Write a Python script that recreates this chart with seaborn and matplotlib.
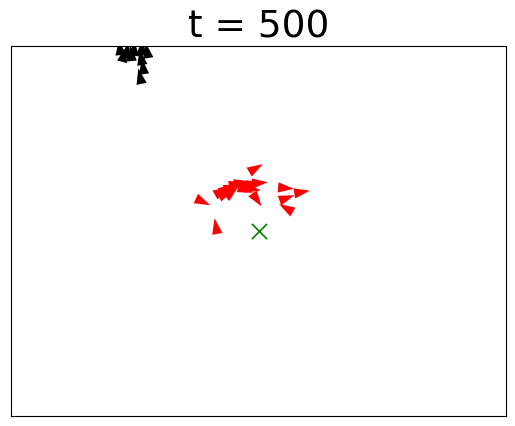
import numpy as np
import pandas as pd
import matplotlib
matplotlib.use("Agg")
import matplotlib.pyplot as plt
from matplotlib.markers import MarkerStyle
from matplotlib.path import Path
from matplotlib.transforms import Affine2D
import seaborn as sns

# flock (red) - position and heading in degrees
flock_x = [-1.0, -22.4, -17.2, -0.6, 11.1, 17.6, 11.5, 11.1,
           -14.8, -12.7, -10.7, -8.7, -6.7, -4.2, -1.8, 0.6, -10.7, -5.1, -2.2, -13.0]
flock_y = [25.5, 11.8, 2.0, 12.6, 17.4, 15.8, 13.4, 9.3,
           16.2, 17.4, 17.8, 19.1, 19.5, 18.6, 19.1, 19.5, 15.8, 16.6, 17.0, 15.2]
flock_heading = [30, -25, 100, -55, -5, 10, 20, 150,
                 30, 35, 20, 15, 10, 0, 10, 5, 40, -20, -10, 25]

# predators (black)
pred_x = [-56.0, -53.1, -50.3, -47.1, -45.1, -54.3, -51.5, -47.5, -46.7, -47.9]
pred_y = [74.5, 73.3, 74.1, 74.5, 73.3, 71.7, 72.1, 70.5, 66.8, 62.8]
pred_heading = [95, 80, 90, 85, 100, 75, 95, 100, 98, 102]

# target
goal_x = [0.0]
goal_y = [0.0]

step = 500

tri = Path([(1, 0), (-1, 0.65), (-1, -0.65), (1, 0)],
           [Path.MOVETO, Path.LINETO, Path.LINETO, Path.CLOSEPOLY])


def arrow_markers(headings):
    return {h: MarkerStyle(tri, transform=Affine2D().rotate_deg(h)) for h in set(headings)}


sns.set_theme(style="white", rc={"axes.edgecolor": "black", "axes.linewidth": 0.8,
                                 "text.color": "black"})
plt.rcParams["font.family"] = ["DejaVu Sans"]

fig, ax = plt.subplots(figsize=(5.15, 4.26), dpi=100)
fig.subplots_adjust(left=11 / 515, right=506 / 515, top=1 - 46 / 426, bottom=1 - 416 / 426)

flock = pd.DataFrame({"x": flock_x, "y": flock_y, "h": flock_heading})
preds = pd.DataFrame({"x": pred_x, "y": pred_y, "h": pred_heading})

sns.scatterplot(data=flock, x="x", y="y", style="h", markers=arrow_markers(flock_heading),
                color="red", s=130, linewidth=0, legend=False, ax=ax)
sns.scatterplot(data=preds, x="x", y="y", style="h", markers=arrow_markers(pred_heading),
                color="black", s=130, linewidth=0, legend=False, ax=ax)
sns.scatterplot(x=goal_x, y=goal_y, marker="x", color="green", s=120, linewidth=1.2,
                legend=False, ax=ax)

ax.set_xlim(-100, 100)
ax.set_ylim(-75, 75)
ax.set_xticks([])
ax.set_yticks([])
ax.set_xlabel("")
ax.set_ylabel("")
ax.set_title(f"t = {step}", fontsize=27, color="black")

plt.savefig("out.png", dpi=100)
